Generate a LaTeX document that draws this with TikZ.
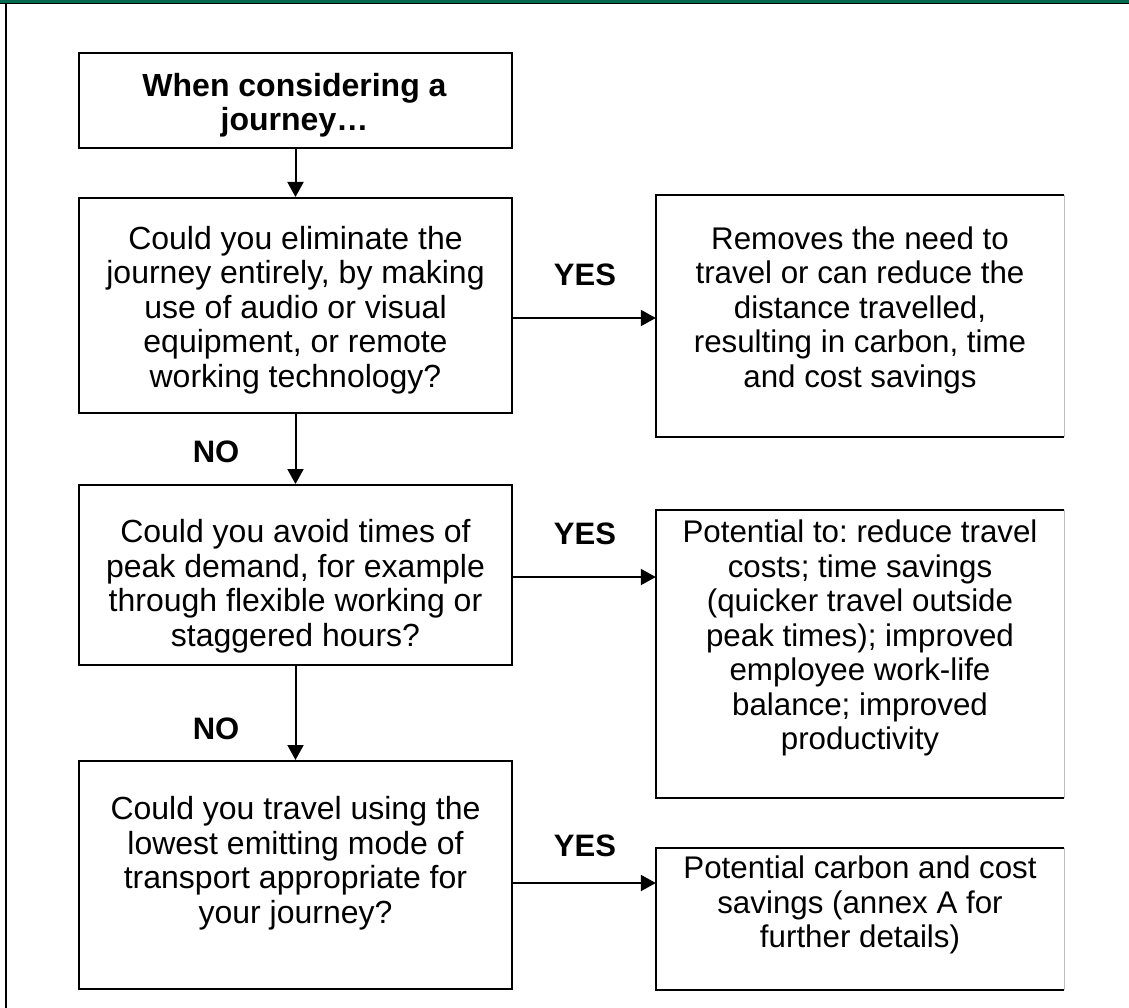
\documentclass[tikz,border=0pt]{standalone}
\usepackage{fontspec}
\setmainfont{Liberation Sans}
\usetikzlibrary{arrows.meta}
\definecolor{topgreen}{RGB}{0,105,80}
\begin{document}
\frenchspacing
\begin{tikzpicture}[x=1pt,y=-1pt,
  box/.style={draw=black,line width=2pt,minimum width=#1,inner sep=0pt},
  rbox/.style={draw=none,inner sep=0pt},
  txt/.style={align=center,font=\fontsize{32}{34.5}\selectfont,inner sep=0pt},
  rtxt/.style={align=center,font=\fontsize{31.3}{34.5}\selectfont,inner sep=0pt},
  lab/.style={font=\fontsize{31}{34.5}\selectfont\bfseries,inner sep=0pt},
  arr/.style={line width=2pt,-{Triangle[length=15pt,width=16pt]}}]
\useasboundingbox (0,0) rectangle (1129,1008);
\fill[white] (0,0) rectangle (1129,1008);
% frame
\fill[topgreen] (0,0) rectangle (1129,3);
\draw[black,line width=1.2pt] (0,3.6) -- (1129,3.6);
\draw[black,line width=1.5pt] (6,3.6) -- (6,1008);
% left boxes
\node[box=433pt,minimum height=95pt] (b1) at (295.5,100.5) {};
\node[box=433pt,minimum height=215pt] (b2) at (295.5,305.5) {};
\node[box=433pt,minimum height=180pt] (b3) at (295.5,575) {};
\node[box=433pt,minimum height=228pt] (b4) at (295.5,875) {};
% right boxes
\node[rbox,minimum width=408pt,minimum height=242pt] (r1) at (860,316) {};
\node[rbox,minimum width=408pt,minimum height=288pt] (r2) at (860,654) {};
\node[rbox,minimum width=408pt,minimum height=142pt] (r3) at (860,919) {};
\foreach \r in {r1,r2,r3}{
  \draw[black,line width=2pt] (\r.north east) -- (\r.north west) -- (\r.south west) -- (\r.south east);
  \draw[black!25,line width=1pt] (\r.north east) -- (\r.south east);
}
% texts
\node[txt,font=\fontsize{32}{34.5}\selectfont\bfseries] (t1) at (294.5,105) {When considering a\\journey…};
\node[txt] (t2) at (295.5,310) {Could you eliminate the\\journey entirely, by making\\use of audio or visual\\equipment, or remote\\working technology?};
\node[txt] (t3) at (295.5,586) {Could you avoid times of\\peak demand, for example\\through flexible working or\\staggered hours?};
\node[txt] (t4) at (295.5,863) {Could you travel using the\\lowest emitting mode of\\transport appropriate for\\your journey?};
\node[rtxt] (s1) at (860,310) {Removes the need to\\travel or can reduce the\\distance travelled,\\resulting in carbon, time\\and cost savings};
\node[rtxt] (s2) at (860,638) {Potential to: reduce travel\\costs; time savings\\(quicker travel outside\\peak times); improved\\employee work-life\\balance; improved\\productivity};
\node[rtxt] (s3) at (860,905) {Potential carbon and cost\\savings (annex A for\\further details)};
% labels
\node[lab] (y1) at (585,275) {YES};
\node[lab] (y2) at (585,534) {YES};
\node[lab] (y3) at (585,846) {YES};
\node[lab] (n1) at (216,452) {NO};
\node[lab] (n2) at (216,729) {NO};
% arrows
\draw[arr] (b1.south) -- (b2.north);
\draw[arr] (b2.south) -- (b3.north);
\draw[arr] (b3.south) -- (b4.north);
\coordinate (a1) at (0,318);
\coordinate (a2) at (0,577);
\coordinate (a3) at (0,883);
\draw[arr] (b2.east |- a1) -- (r1.west |- a1);
\draw[arr] (b3.east |- a2) -- (r2.west |- a2);
\draw[arr] (b4.east |- a3) -- (r3.west |- a3);
\end{tikzpicture}
\end{document}
